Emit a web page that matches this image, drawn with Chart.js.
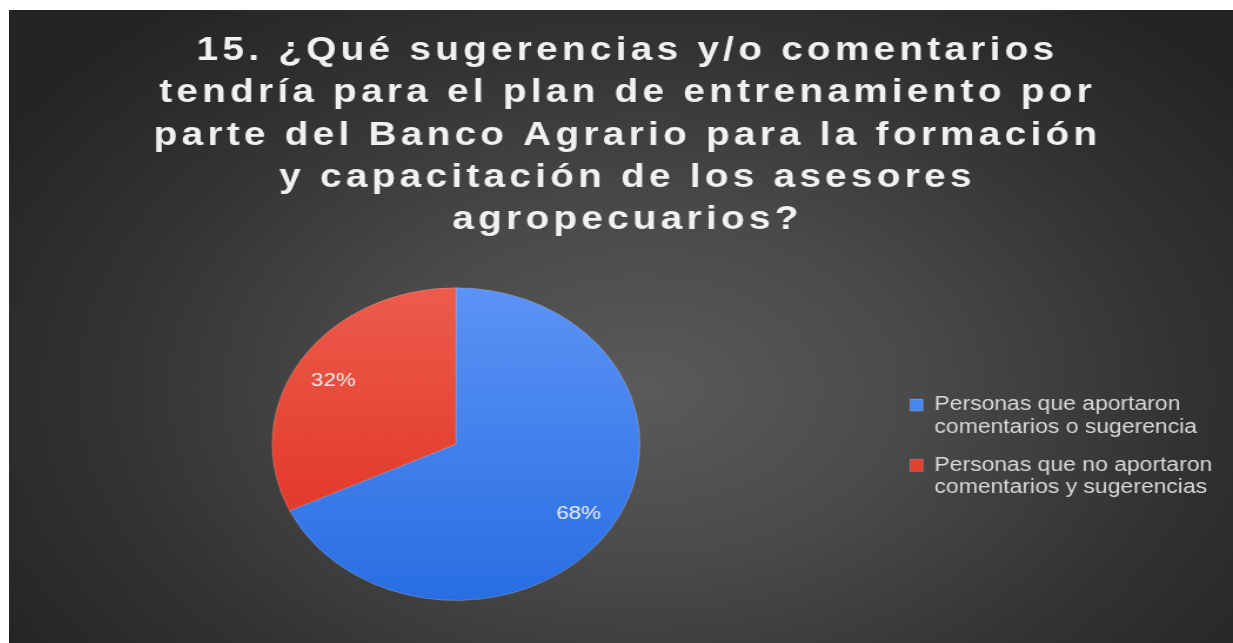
<!DOCTYPE html>
<html lang="es">
<head>
<meta charset="utf-8">
<title>Pregunta 15</title>
<script src="https://cdn.jsdelivr.net/npm/chart.js@4.4.1/dist/chart.umd.min.js"></script>
<style>
  html, body { margin: 0; padding: 0; background: #ffffff; }
  #slide {
    position: absolute;
    left: 9px;
    top: 10px;
    width: 1224px;
    height: 633px;
    overflow: hidden;
    background: radial-gradient(ellipse 62% 78% at 52% 60%, #5a5a5a 0%, #4a4a4a 35%, #333333 70%, #242424 100%);
  }
  /* the slide is wider than it is drawn, so the canvas is stretched sideways */
  #stretch {
    width: 1041px;
    height: 633px;
    transform: scaleX(1.17579);
    transform-origin: 0 0;
  }
</style>
</head>
<body>
<div id="slide">
  <div id="stretch">
    <canvas id="chart"></canvas>
  </div>
</div>
<script>
const titleLines = [
  '15. ¿Qué sugerencias y/o comentarios',
  'tendría para el plan de entrenamiento por',
  'parte del Banco Agrario para la formación',
  'y capacitación de los asesores',
  'agropecuarios?'
];
const categories = [
  ['Personas que aportaron', 'comentarios o sugerencia'],
  ['Personas que no aportaron', 'comentarios y sugerencias']
];
const percentages = [68, 32];

const FONT = "'Liberation Sans', Arial, sans-serif";

// top-to-bottom shading for each slice
const sliceShades = [
  ['rgb(92, 147, 246)', 'rgb(40, 110, 226)'],
  ['rgb(237, 92, 76)', 'rgb(222, 44, 28)']
];

function sliceColor(context) {
  const shade = sliceShades[context.dataIndex];
  const area = context.chart.chartArea;
  if (!area) return shade[1];
  const g = context.chart.ctx.createLinearGradient(0, area.top, 0, area.bottom);
  g.addColorStop(0, shade[0]);
  g.addColorStop(1, shade[1]);
  return g;
}

// Chart.js has no letter-spacing option, so the title block gets wrapped
const spacedTitle = {
  id: 'spacedTitle',
  afterInit(chart, args, opts) {
    const block = chart.titleBlock;
    const draw = block.draw.bind(block);
    block.draw = function () {
      const ctx = chart.ctx;
      ctx.save();
      ctx.letterSpacing = opts.spacing + 'px';
      ctx.translate(opts.shift, 0);
      draw();
      ctx.restore();
    };
  }
};

// percentage text inside each slice
const sliceLabels = {
  id: 'sliceLabels',
  afterDatasetsDraw(chart) {
    const ctx = chart.ctx;
    const meta = chart.getDatasetMeta(0);
    ctx.save();
    ctx.font = '19px ' + FONT;
    ctx.fillStyle = '#ededed';
    ctx.textAlign = 'center';
    ctx.textBaseline = 'middle';
    meta.data.forEach((arc, i) => {
      const p = arc.getProps(['x', 'y', 'startAngle', 'endAngle', 'outerRadius'], true);
      const mid = (p.startAngle + p.endAngle) / 2;
      const r = p.outerRadius * 0.79;
      ctx.fillText(percentages[i] + '%', p.x + Math.cos(mid) * r, p.y + Math.sin(mid) * r + 3);
    });
    ctx.restore();
  }
};

new Chart(document.getElementById('chart'), {
  type: 'pie',
  data: {
    labels: categories,
    datasets: [{
      data: percentages,
      backgroundColor: sliceColor,
      borderColor: 'rgba(255, 255, 255, 0.2)',
      borderWidth: 1,
      hoverOffset: 0
    }]
  },
  options: {
    responsive: true,
    maintainAspectRatio: false,
    animation: false,
    layout: {
      padding: { left: 9, right: 12, top: 0, bottom: 42 }
    },
    plugins: {
      title: {
        display: true,
        text: titleLines,
        color: '#f1f1f1',
        font: { family: FONT, size: 33, weight: 'bold', lineHeight: 1.28 },
        padding: { top: 20, bottom: 46 }
      },
      spacedTitle: { spacing: 3.6, shift: 7 },
      legend: {
        display: true,
        position: 'right',
        align: 'center',
        fullSize: false,
        // empty title only works as a spacer, pushing the entries a bit lower
        title: { display: true, text: '', padding: 0, font: { size: 8, lineHeight: 1 } },
        labels: {
          color: '#d9d9d9',
          font: { family: FONT, size: 19.5, lineHeight: 1.16 },
          boxWidth: 11,
          boxHeight: 12,
          padding: 15
        }
      },
      tooltip: { enabled: false }
    }
  },
  plugins: [spacedTitle, sliceLabels]
});
</script>
</body>
</html>
